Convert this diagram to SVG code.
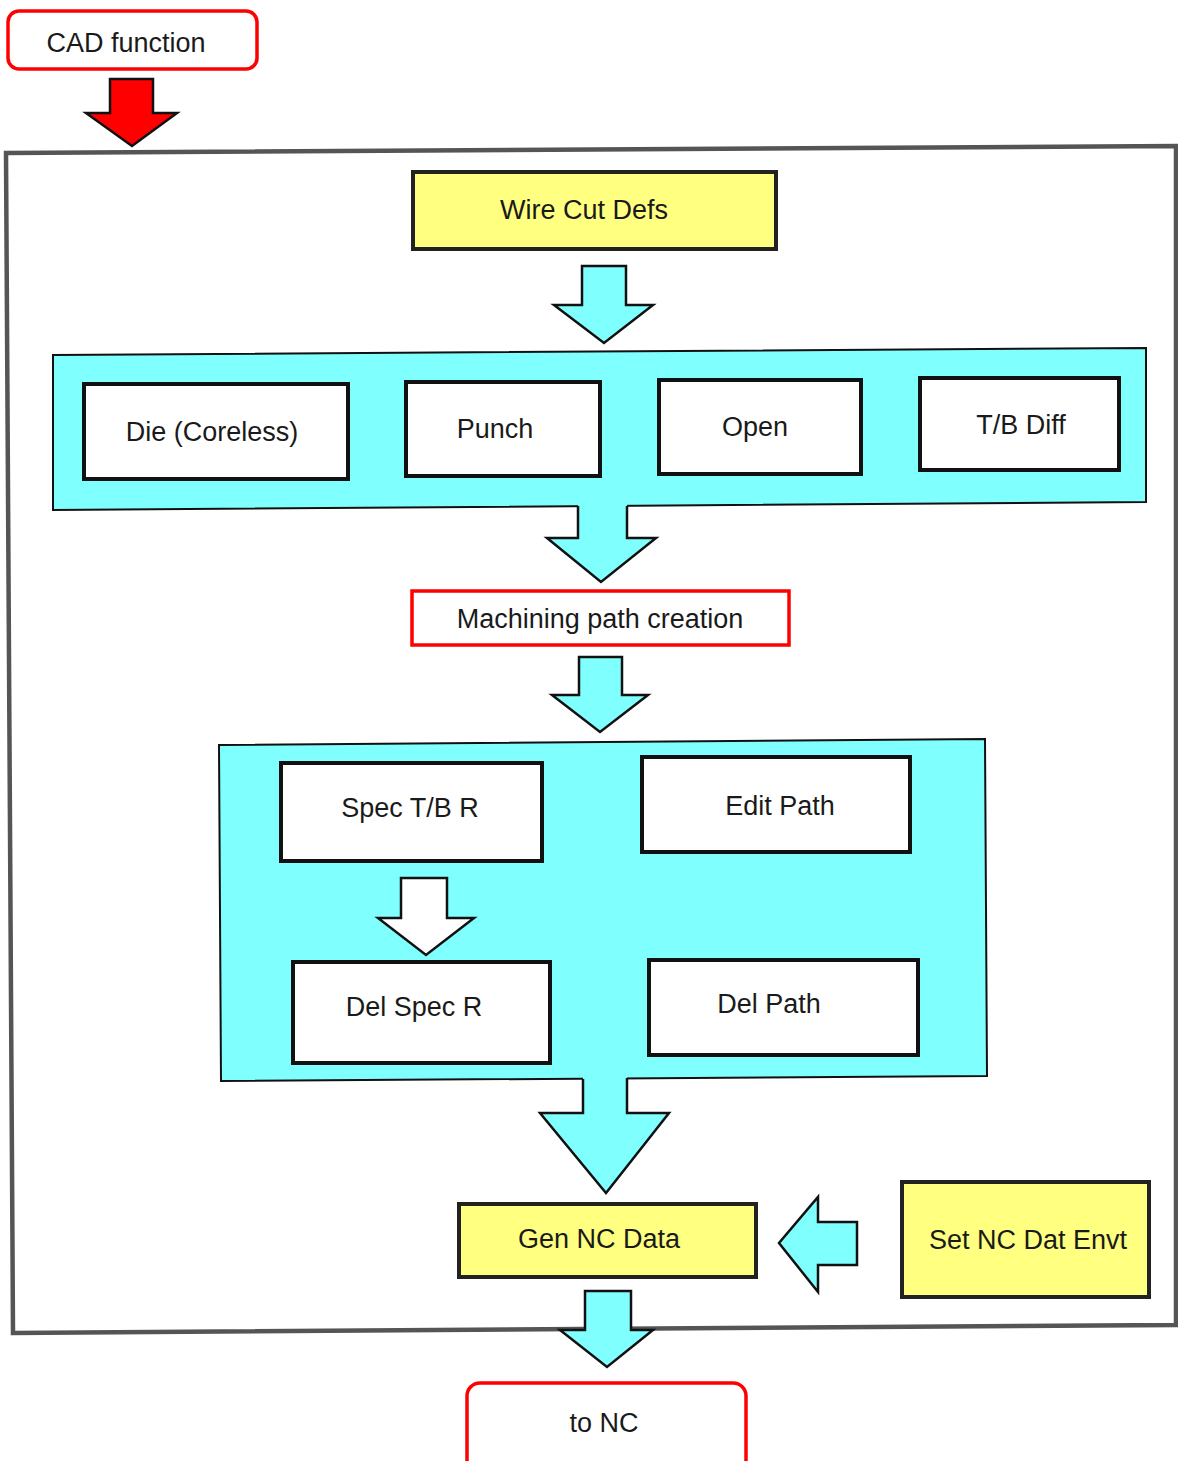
<svg xmlns="http://www.w3.org/2000/svg" width="1178" height="1461" viewBox="0 0 1178 1461">
<style>
  text { font-family: "Liberation Sans", Arial, sans-serif; font-size: 27px; fill: #1a1a1a; text-anchor: middle; }
  .box { fill: #ffffff; stroke: #111; stroke-width: 4; }
  .ybox { fill: #ffff80; stroke: #222; stroke-width: 4; }
  .red { fill: #ffffff; stroke: #ff0000; stroke-width: 3.5; }
  .panel { fill: #80ffff; stroke: #111; stroke-width: 2; }
  .cfill { fill: #80ffff; stroke: none; }
  .aline { fill: none; stroke: #111; stroke-width: 2.5; stroke-linejoin: miter; }
  .carrow { fill: #80ffff; stroke: #111; stroke-width: 2.5; }
</style>
<rect width="1178" height="1461" fill="#ffffff"/>

<g id="frame">
  <path d="M6,153 L1176,146 L1176,1325 L13,1333 Z" fill="none" stroke="#555" stroke-width="4.5"/>
</g>

<g id="cad-function">
  <rect class="red" x="8" y="11" width="249" height="58" rx="11"/>
  <text x="126" y="52">CAD function</text>
</g>

<g id="wire-cut-defs">
  <rect class="ybox" x="413" y="172" width="363" height="77"/>
  <text x="584" y="219">Wire Cut Defs</text>
</g>

<g id="panel-1">
  <path class="panel" d="M53,355 L1146,348 L1146,502 L53,510 Z"/>
</g>
<g id="die-coreless">
  <rect class="box" x="84" y="384" width="264" height="95"/>
  <text x="212" y="441">Die (Coreless)</text>
</g>
<g id="punch">
  <rect class="box" x="406" y="382" width="194" height="94"/>
  <text x="495" y="438">Punch</text>
</g>
<g id="open">
  <rect class="box" x="659" y="380" width="202" height="94"/>
  <text x="755" y="436">Open</text>
</g>
<g id="tb-diff">
  <rect class="box" x="920" y="378" width="199" height="92"/>
  <text x="1021" y="434">T/B Diff</text>
</g>

<g id="machining-path-creation">
  <rect class="red" x="412" y="591" width="377" height="54"/>
  <text x="600" y="628">Machining path creation</text>
</g>

<g id="panel-2">
  <path class="panel" d="M219,745 L985,739 L987,1076 L221,1081 Z"/>
</g>
<g id="spec-tb-r">
  <rect class="box" x="281" y="763" width="261" height="98"/>
  <text x="410" y="817">Spec T/B R</text>
</g>
<g id="edit-path">
  <rect class="box" x="642" y="757" width="268" height="95"/>
  <text x="780" y="815">Edit Path</text>
</g>
<g id="del-spec-r">
  <rect class="box" x="293" y="962" width="257" height="101"/>
  <text x="414" y="1016">Del Spec R</text>
</g>
<g id="del-path">
  <rect class="box" x="649" y="960" width="269" height="95"/>
  <text x="769" y="1013">Del Path</text>
</g>

<g id="gen-nc-data">
  <rect class="ybox" x="459" y="1204" width="297" height="73"/>
  <text x="599" y="1248">Gen NC Data</text>
</g>
<g id="set-nc-dat-envt">
  <rect class="ybox" x="902" y="1182" width="247" height="115"/>
  <text x="1028" y="1249">Set NC Dat Envt</text>
</g>

<g id="to-nc">
  <rect class="red" x="467" y="1383" width="279" height="100" rx="13"/>
  <text x="604" y="1432">to NC</text>
</g>

<g id="connectors">
  <!-- CAD function -> frame -->
  <polygon points="110,79 153,79 153,113 177,113 132,146 86,113 110,113" fill="#ff0000" stroke="#111" stroke-width="2.5"/>
  <!-- Wire Cut Defs -> panel 1 -->
  <polygon class="carrow" points="582,266 626,266 626,305 653,305 604,343 554,305 582,305"/>
  <!-- panel 1 -> Machining path creation -->
  <polygon class="cfill" points="578,503 627,503 627,538 656,538 601,582 547,538 578,538"/>
  <polyline class="aline" points="578,506 578,538 547,538 601,582 656,538 627,538 627,506"/>
  <!-- Machining path creation -> panel 2 -->
  <polygon class="carrow" points="579,657 622,657 622,695 648,695 600,732 552,695 579,695"/>
  <!-- Spec T/B R -> Del Spec R -->
  <polygon points="401,878 447,878 447,918 474,918 426,955 378,918 401,918" fill="#ffffff" stroke="#111" stroke-width="2.5"/>
  <!-- panel 2 -> Gen NC Data -->
  <polygon class="cfill" points="583,1075 627,1075 627,1113 669,1113 606,1193 540,1113 583,1113"/>
  <polyline class="aline" points="583,1079 583,1113 540,1113 606,1193 669,1113 627,1113 627,1078"/>
  <!-- Set NC Dat Envt -> Gen NC Data -->
  <polygon class="carrow" points="857,1222 857,1265 818,1265 818,1292 779,1243 818,1197 818,1222"/>
  <!-- Gen NC Data -> to NC -->
  <polygon class="carrow" points="585,1291 631,1291 631,1330 653,1330 607,1367 560,1330 585,1330"/>
</g>
</svg>
